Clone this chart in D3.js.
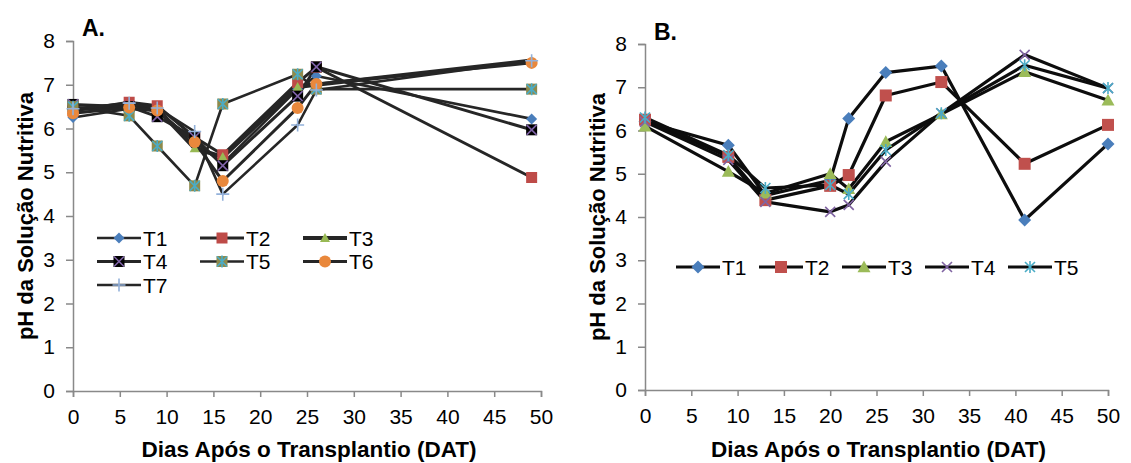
<!DOCTYPE html>
<html>
<head>
<meta charset="utf-8">
<script src="https://cdn.jsdelivr.net/npm/d3@7"></script>
<style>
  body { margin: 0; background: #fff; }
  svg { font-family: "Liberation Sans", Arial, sans-serif; }
</style>
</head>
<body>
<svg width="1131" height="463"></svg>
<script>
// panel A data
const daysA = [0, 6, 9, 13, 16, 24, 26, 49]
const namesA = ["T1", "T2", "T3", "T4", "T5", "T6", "T7"]
const a1 = [6.25, 6.45, 6.40, 5.70, 5.20, 6.90, 7.20, 6.22]
const a2 = [6.40, 6.60, 6.52, 5.80, 5.40, 7.05, 7.40, 4.88]
const a3 = [6.45, 6.50, 6.45, 5.55, 5.35, 6.95, 7.00, 7.55]
const a4 = [6.55, 6.50, 6.27, 5.80, 5.15, 6.74, 7.41, 5.97]
const a5 = [6.50, 6.29, 5.60, 4.69, 6.56, 7.24, 6.90, 6.90]
const a6 = [6.35, 6.48, 6.41, 5.69, 4.80, 6.47, 7.02, 7.50]
const a7 = [6.45, 6.58, 6.47, 5.93, 4.50, 6.08, 6.88, 7.55]

// panel B data
const daysB = [0, 9, 13, 20, 22, 26, 32, 41, 50]
const namesB = ["T1", "T2", "T3", "T4", "T5"]
const b1 = [6.20, 5.66, 4.50, 4.85, 6.28, 7.34, 7.49, 3.93, 5.69]
const b2 = [6.25, 5.39, 4.39, 4.72, 4.97, 6.81, 7.12, 5.23, 6.13]
const b3 = [6.10, 5.05, 4.55, 5.00, 4.65, 5.74, 6.38, 7.36, 6.70]
const b4 = [6.20, 5.32, 4.35, 4.12, 4.28, 5.28, 6.40, 7.75, 6.98]
const b5 = [6.30, 5.43, 4.67, 4.74, 4.53, 5.55, 6.40, 7.51, 6.98]

const yTicks = [0, 1, 2, 3, 4, 5, 6, 7, 8]
const xTicks = [0, 5, 10, 15, 20, 25, 30, 35, 40, 45, 50]

var svg = d3.select("svg")

// marker drawing, one style per series
function drawMarker(g, style) {
  if (style.shape == "diamond") {
    var r = style.r
    g.append("path").attr("d", "M0," + (-r) + "L" + r + ",0L0," + r + "L" + (-r) + ",0Z").attr("fill", style.fill)
  } else if (style.shape == "square") {
    g.append("rect").attr("x", -style.r).attr("y", -style.r).attr("width", style.r * 2).attr("height", style.r * 2)
      .attr("fill", style.fill)
  } else if (style.shape == "triangle") {
    var t = style.r
    g.append("path").attr("d", "M0," + (-t) + "L" + t + "," + (t * 0.8) + "L" + (-t) + "," + (t * 0.8) + "Z").attr("fill", style.fill)
  } else if (style.shape == "circle") {
    g.append("circle").attr("r", style.r).attr("fill", style.fill)
  }
  if (style.cross) {
    var c = style.crossR
    var d = ""
    if (style.cross == "x" || style.cross == "star") d += "M" + (-c) + "," + (-c) + "L" + c + "," + c + "M" + (-c) + "," + c + "L" + c + "," + (-c)
    if (style.cross == "plus" || style.cross == "star") d += "M0," + (-c - 1) + "L0," + (c + 1)
    if (style.cross == "plus") d += "M" + (-c - 1) + ",0L" + (c + 1) + ",0"
    g.append("path").attr("d", d).attr("stroke", style.crossColor).attr("stroke-width", 1.6).attr("fill", "none")
  }
}

function drawPanel(cfg) {
  var x = d3.scaleLinear().domain([0, 50]).range([cfg.left, cfg.right])
  var y = d3.scaleLinear().domain([0, 8]).range([cfg.bottom, cfg.top])
  var axisColor = "#898989"

  var gx = svg.append("g").attr("transform", "translate(0," + cfg.bottom + ")")
    .call(d3.axisBottom(x).tickValues(xTicks).tickSize(6).tickPadding(9).tickFormat(d3.format("d")))
  var gy = svg.append("g").attr("transform", "translate(" + cfg.left + ",0)")
    .call(d3.axisLeft(y).tickValues(yTicks).tickSize(7).tickPadding(8).tickFormat(d3.format("d")))
  ;[gx, gy].forEach(function(g) {
    g.select(".domain").attr("stroke", axisColor).attr("stroke-width", 1.5)
    g.selectAll(".tick line").attr("stroke", axisColor).attr("stroke-width", 1.5)
    g.selectAll(".tick text").attr("fill", "#000").style("font-size", "21px")
  })
  gx.selectAll(".tick text").attr("dy", "0.85em")
  gy.selectAll(".tick text").attr("dx", "-3px")

  svg.append("text").attr("x", (cfg.left + cfg.right) / 2 + 2).attr("y", 457)
    .attr("text-anchor", "middle").style("font-size", "22.5px").style("font-weight", "bold")
    .text("Dias Após o Transplantio (DAT)")
  svg.append("text").attr("transform", "translate(" + cfg.titleX + "," + ((cfg.top + cfg.bottom) / 2) + ") rotate(-90)")
    .attr("text-anchor", "middle").style("font-size", "22px").style("font-weight", "bold")
    .text("pH da Solução Nutritiva")
  svg.append("text").attr("x", cfg.left + 9).attr("y", cfg.labelY)
    .style("font-size", "23px").style("font-weight", "bold").text(cfg.label)

  var line = d3.line().x(function(d) { return x(d[0]) }).y(function(d) { return y(d[1]) })

  cfg.series.forEach(function(s) {
    var pts = cfg.days.map(function(d, i) { return [d, s.values[i]] })
    svg.append("path").datum(pts).attr("d", line)
      .attr("fill", "none").attr("stroke", cfg.lineColor).attr("stroke-width", s.style.w)
      .attr("stroke-linejoin", "round")
  })
  cfg.series.forEach(function(s) {
    var pts = cfg.days.map(function(d, i) { return [d, s.values[i]] })
    svg.append("g").selectAll("g").data(pts).enter().append("g")
      .attr("transform", function(d) { return "translate(" + x(d[0]) + "," + y(d[1]) + ")" })
      .each(function() { drawMarker(d3.select(this), s.style) })
  })

  // legend
  cfg.series.forEach(function(s, i) {
    var lx = cfg.legX + (i % cfg.legCols) * cfg.legDX
    var ly = cfg.legY + Math.floor(i / cfg.legCols) * cfg.legDY
    svg.append("line").attr("x1", lx).attr("x2", lx + 44).attr("y1", ly).attr("y2", ly)
      .attr("stroke", cfg.lineColor).attr("stroke-width", s.style.w)
    var g = svg.append("g").attr("transform", "translate(" + (lx + 22) + "," + ly + ")")
    drawMarker(g, s.style)
    svg.append("text").attr("x", lx + 46).attr("y", ly).attr("dy", "0.36em")
      .style("font-size", "21px").text(s.name)
  })
}

var stylesA = [
  {shape: "diamond", r: 5.5, fill: "#4a7ebb", w: 2.6},
  {shape: "square", r: 5.5, fill: "#be4b48", w: 3},
  {shape: "triangle", r: 5, fill: "#98b954", w: 4.2},
  {shape: "square", r: 5.5, fill: "#000", cross: "x", crossR: 5, crossColor: "#7e62a6", w: 3},
  {shape: "square", r: 5.5, fill: "#8e8a4c", cross: "star", crossR: 5, crossColor: "#4bacc6", w: 2.6},
  {shape: "circle", r: 6, fill: "#e9883c", w: 3},
  {cross: "plus", crossR: 5.5, crossColor: "#93b1da", w: 2.6}
]
var stylesB = [
  {shape: "diamond", r: 6.5, fill: "#4a7ebb", w: 3.2},
  {shape: "square", r: 6, fill: "#c0504d", w: 3.2},
  {shape: "triangle", r: 6.5, fill: "#9bbb59", w: 3.2},
  {cross: "x", crossR: 5, crossColor: "#8064a2", w: 3.2},
  {cross: "star", crossR: 5, crossColor: "#4bacc6", w: 3.2}
]

drawPanel({
  left: 73, right: 541, top: 41, bottom: 391, titleX: 33, label: "A.", labelY: 36,
  days: daysA, lineColor: "#262626",
  series: [a1, a2, a3, a4, a5, a6, a7].map(function(v, i) { return {name: namesA[i], values: v, style: stylesA[i]} }),
  legX: 97, legY: 238, legCols: 3, legDX: 103, legDY: 23.5
})

drawPanel({
  left: 645, right: 1108, top: 44, bottom: 390, titleX: 605, label: "B.", labelY: 40,
  days: daysB, lineColor: "#0d0d0d",
  series: [b1, b2, b3, b4, b5].map(function(v, i) { return {name: namesB[i], values: v, style: stylesB[i]} }),
  legX: 676, legY: 267, legCols: 5, legDX: 83, legDY: 24
})
</script>
</body>
</html>
